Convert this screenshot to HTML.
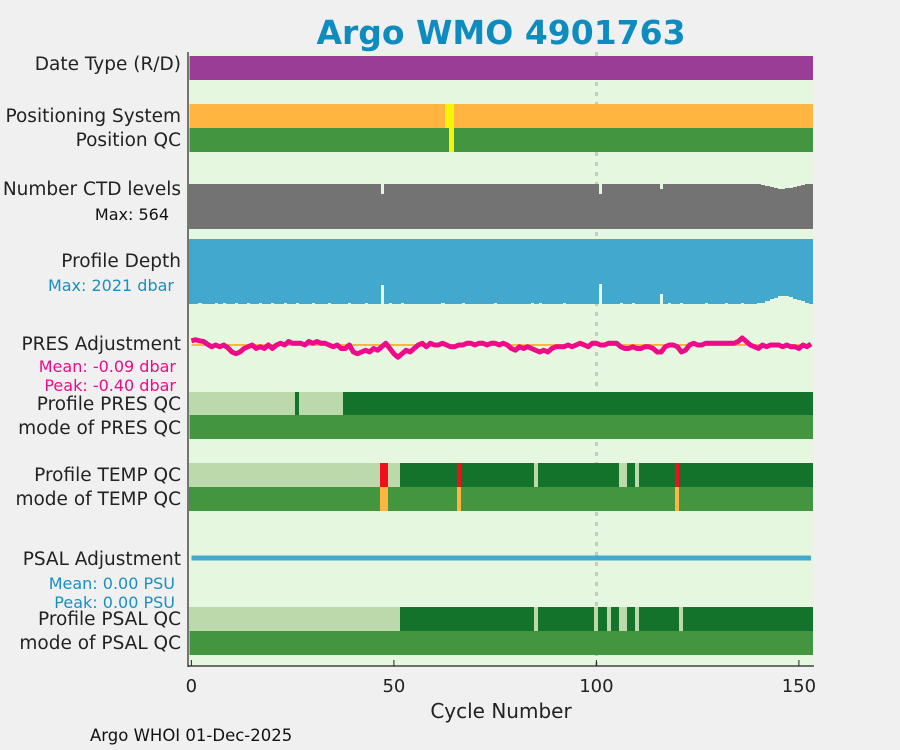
<!DOCTYPE html>
<html><head><meta charset="utf-8">
<style>
body{margin:0;background:#f0f0f0;}
svg{display:block;font-family:"DejaVu Sans","Liberation Sans",sans-serif;}
.lbl{font-size:18.5px;fill:#222;text-anchor:end;}
.sub{font-size:16px;text-anchor:end;}
</style></head>
<body>
<svg id="chart" width="900" height="750" viewBox="0 0 900 750">
<rect x="0" y="0" width="900" height="750" fill="#f0f0f0"/>
<text x="501" y="44" font-size="33" font-weight="bold" fill="#0e8cc0" text-anchor="middle">Argo WMO 4901763</text>
<rect x="188" y="52" width="625" height="614" fill="#e5f8df"/>
<g id="marks" shape-rendering="crispEdges"></g>
<line x1="188" y1="52" x2="188" y2="667" stroke="#222" stroke-width="1.2"/>
<line x1="188" y1="666" x2="814" y2="666" stroke="#222" stroke-width="1.2"/>
<g id="xticks"></g>
<text x="501" y="718" font-size="20" fill="#222" text-anchor="middle">Cycle Number</text>
<text class="lbl" x="181" y="70">Date Type (R/D)</text>
<text class="lbl" x="181" y="122">Positioning System</text>
<text class="lbl" x="181" y="146">Position QC</text>
<text class="lbl" x="181" y="195">Number CTD levels</text>
<text class="sub" x="169" y="220" fill="#111">Max: 564</text>
<text class="lbl" x="181" y="267">Profile Depth</text>
<text class="sub" x="174" y="291" fill="#1a8fc0">Max: 2021 dbar</text>
<text class="lbl" x="181" y="350">PRES Adjustment</text>
<text class="sub" x="176" y="372" fill="#ef0a8a">Mean: -0.09 dbar</text>
<text class="sub" x="176" y="391" fill="#ef0a8a">Peak: -0.40 dbar</text>
<text class="lbl" x="181" y="410">Profile PRES QC</text>
<text class="lbl" x="181" y="434">mode of PRES QC</text>
<text class="lbl" x="181" y="481">Profile TEMP QC</text>
<text class="lbl" x="181" y="505">mode of TEMP QC</text>
<text class="lbl" x="181" y="565">PSAL Adjustment</text>
<text class="sub" x="175" y="589" fill="#1a8fc0">Mean: 0.00 PSU</text>
<text class="sub" x="175" y="608" fill="#1a8fc0">Peak: 0.00 PSU</text>
<text class="lbl" x="181" y="625">Profile PSAL QC</text>
<text class="lbl" x="181" y="649">mode of PSAL QC</text>
<text x="90" y="741" font-size="16.5" fill="#111">Argo WHOI 01-Dec-2025</text>
</svg>
<script>
const NS="http://www.w3.org/2000/svg";
const nCycles=154;
const xTicks=[0,50,100,150];
const presAdj=[0.12,0.15,0.12,0.1,0.02,-0.05,0,-0.05,0,-0.08,
-0.2,-0.25,-0.2,-0.1,-0.05,0,-0.1,-0.05,-0.1,0,
-0.1,0,0.05,0,0.1,0.05,0.05,0.05,0,0.1,
0.05,0.1,0.05,0.05,0,-0.05,0,-0.1,-0.1,0,
-0.2,-0.25,-0.2,-0.15,-0.2,-0.1,-0.15,-0.05,0.05,-0.1,
-0.25,-0.35,-0.25,-0.15,-0.2,-0.1,0,0.05,-0.05,0.05,
0,0,0.05,0,-0.05,-0.05,0,0,0.05,0.05,
0,0.05,0.05,0,0.05,0.05,0,0.05,0,-0.1,
-0.15,-0.05,-0.1,-0.05,-0.1,-0.15,-0.2,-0.15,-0.2,-0.1,
-0.05,-0.05,-0.05,0,-0.05,0,0.05,0,-0.05,0.05,
0.05,0,0,0.05,0.05,0.05,-0.05,-0.1,-0.1,-0.05,
-0.1,-0.1,-0.05,-0.05,-0.1,-0.2,-0.2,-0.05,0,0,
-0.05,-0.2,-0.15,0,0.05,0,0,0.05,0.05,0.05,
0.05,0.05,0.05,0.05,0.05,0.1,0.2,0.1,0,-0.05,
-0.1,0,-0.05,0,0,0,-0.05,0,-0.05,-0.05,
-0.1,0,-0.05,0.03];
const ctdLevels=[564,564,564,564,564,558,564,558,558,564,
564,564,564,564,564,564,558,564,564,564,
564,564,564,564,564,564,564,558,564,564,
564,564,564,564,558,564,564,564,564,564,
564,564,558,564,564,564,564,440,564,564,
564,564,564,564,558,564,564,564,564,564,
564,564,564,564,564,564,558,564,564,564,
564,564,564,564,564,564,564,564,564,564,
564,564,558,564,564,564,564,564,564,564,
564,564,564,564,564,564,564,558,564,564,
564,440,564,564,564,558,564,564,564,564,
564,564,564,564,564,564,500,564,564,564,
564,564,564,564,564,564,564,564,564,564,
564,564,564,564,564,558,564,564,564,564,
564,555,545,530,520,505,505,510,515,525,
535,550,560,564];
const profDepth=[2021,2021,2000,2021,2021,2021,2000,2021,2000,2021,
2021,2000,2021,2021,2000,2021,2021,2000,2021,2021,
2000,2021,2021,2000,2021,2021,2000,2021,2021,2021,
2000,2021,2021,2021,2000,2021,2021,2021,2021,2000,
2021,2021,2021,2000,2021,2021,2021,1430,2021,2000,
2021,2021,2000,2021,2021,2021,2021,2021,2021,2021,
2021,2021,2000,2021,2021,2021,2021,2000,2021,2021,
2021,2021,2021,2021,2021,2000,2021,2021,2021,2021,
2021,2021,2021,2021,2000,2021,2000,2021,2021,2021,
2021,2021,2000,2021,2021,2021,2021,2021,2021,2021,
2021,1400,2021,2021,2021,2021,2000,2021,2021,2000,
2021,2021,2021,2021,2021,2021,1710,2021,2000,2021,
2021,2000,2021,2021,2021,2021,2021,2000,2021,2021,
2021,2021,2000,2021,2021,2021,2000,2021,2021,2021,
2000,1990,1930,1880,1840,1770,1770,1780,1810,1850,
1900,1940,2000,2010];
const posSysSpecial=[63,64];
const posQcSpecial=[64];
const presQcGood=[26];
const presQcLightEnd=37;
const tempQcLight=[49,50,51,85,106,107,110];
const tempQcLightEnd=46;
const tempQcBad=[47,48,66,120];
const psalQcLightEnd=51;
const psalQcLight=[85,100,103,106,107,110,121];

const g=document.getElementById('marks');
function xs(c){return 191.4+c*4.05;}
function add(tag,attrs,name){const e=document.createElementNS(NS,tag);for(const k in attrs)e.setAttribute(k,attrs[k]);


g.appendChild(e);return e;}
function band(y,h,color,name){add('rect',{x:xs(-0.5),y:y,width:xs(nCycles-0.5)-xs(-0.5),height:h,fill:color},name);}
function cell(c,y,h,color,name){const x0=Math.round(xs(c-0.5)),x1=Math.round(xs(c+0.5));add('rect',{x:x0,y:y,width:x1-x0+(c<nCycles-1?1:0),height:h,fill:color},name);}
const LG='#bcd9ab',DG='#13732b',MG='#43963f';
add('line',{x1:xs(100),y1:52,x2:xs(100),y2:666,stroke:'#c8c8c8','stroke-width':3,'stroke-dasharray':'4,6'},'cycle-100-marker');
band(56,24,'#993d96','date-type-band');
band(104,24,'#ffb53f','positioning-system-band');
posSysSpecial.forEach(c=>cell(c,104,24,'#f5f50a','positioning-system-cell'));
band(128,24,MG,'position-qc-band');
posQcSpecial.forEach(c=>cell(c,128,24,'#f5f50a','position-qc-cell'));
const ctdMax=564;
ctdLevels.forEach((v,c)=>{const h=Math.round(v/ctdMax*45);cell(c,229-h,h,'#737373','ctd-levels-bar');});
const depthMax=2021;
profDepth.forEach((v,c)=>{const h=Math.round(v/depthMax*65);cell(c,239,h,'#43a8cd','profile-depth-bar');});
const presZero=345,presScale=35;
add('line',{x1:xs(0),y1:presZero,x2:xs(nCycles-1),y2:presZero,stroke:'#ffb53f','stroke-width':2},'pres-zero-line');
const pl=add('polyline',{points:presAdj.map((v,c)=>xs(c)+','+(presZero-v*presScale)).join(' '),fill:'none',stroke:'#ef0a8a','stroke-width':5,'stroke-linejoin':'round'},'pres-adjustment-line');
pl.setAttribute('shape-rendering','auto');
for(let c=0;c<nCycles;c++){const col=(c<=presQcLightEnd&&!presQcGood.includes(c))?LG:DG;cell(c,392,23,col,'pres-qc-cell');}
band(415,24,MG,'mode-pres-qc-band');
for(let c=0;c<nCycles;c++){let col=DG;if(c<=tempQcLightEnd||tempQcLight.includes(c))col=LG;if(tempQcBad.includes(c))col='#f0101c';cell(c,463,24,col,'temp-qc-cell');}
for(let c=0;c<nCycles;c++){cell(c,487,24,tempQcBad.includes(c)?'#ffb53f':MG,'mode-temp-qc-cell');}
add('line',{x1:xs(0),y1:558,x2:xs(nCycles-1),y2:558,stroke:'#43a8cd','stroke-width':5},'psal-adjustment-line');
for(let c=0;c<nCycles;c++){const col=(c<=psalQcLightEnd||psalQcLight.includes(c))?LG:DG;cell(c,607,24,col,'psal-qc-cell');}
band(631,24,MG,'mode-psal-qc-band');
const xt=document.getElementById('xticks');
xTicks.forEach(t=>{const l=document.createElementNS(NS,'line');
l.setAttribute('x1',xs(t));l.setAttribute('x2',xs(t));l.setAttribute('y1',660);l.setAttribute('y2',666);l.setAttribute('stroke','#222');


xt.appendChild(l);
const tx=document.createElementNS(NS,'text');tx.setAttribute('x',xs(t));tx.setAttribute('y',692);tx.setAttribute('font-size','18');tx.setAttribute('fill','#222');tx.setAttribute('text-anchor','middle');tx.textContent=t;


xt.appendChild(tx);});
</script>
</body></html>
